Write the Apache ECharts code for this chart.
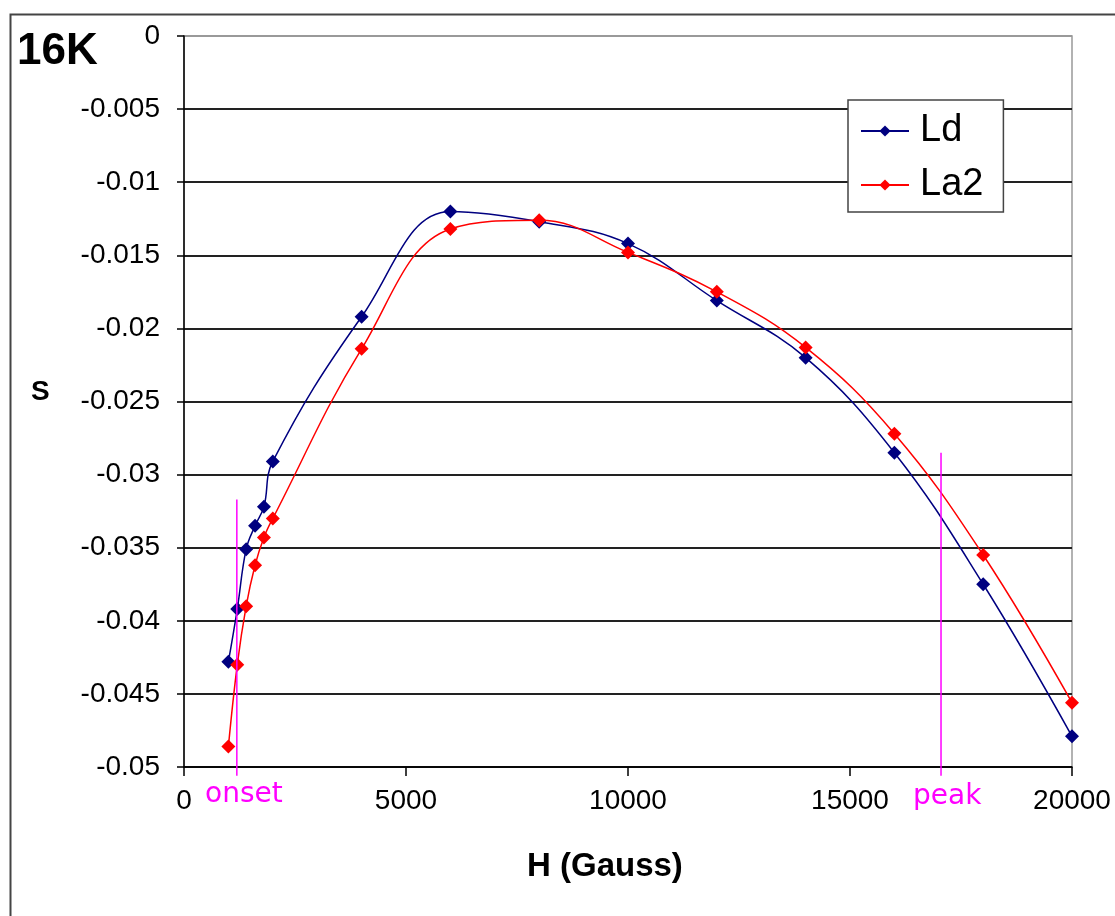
<!DOCTYPE html>
<html><head><meta charset="utf-8">
<script src="https://cdn.jsdelivr.net/npm/echarts@6/dist/echarts.min.js"></script>
<style>html,body{margin:0;padding:0;background:#fff}#c{width:1115px;height:916px}</style>
</head><body><div id="c"></div>
<script>
var ldH = [1000,1200,1400,1600,1800,2000,4000,6000,8000,10000,12000,14000,16000,18000,20000];
var ldS = [-0.0428,-0.0392,-0.0351,-0.0335,-0.0322,-0.0291,-0.0192,-0.0120,-0.0127,-0.0142,-0.0181,-0.0220,-0.0285,-0.0375,-0.0479];
var la2H = [1000,1200,1400,1600,1800,2000,4000,6000,8000,10000,12000,14000,16000,18000,20000];
var la2S = [-0.0486,-0.0430,-0.0390,-0.0362,-0.0343,-0.0330,-0.0214,-0.0132,-0.0126,-0.0148,-0.0175,-0.0213,-0.0272,-0.0355,-0.0456];
var markerH = [1190, 17050];
var markerTop = [-0.0317, -0.0285];
var markerBottom = -0.0506;
var markerNames = ['onset','peak'];
var yTicks = [0,-0.005,-0.01,-0.015,-0.02,-0.025,-0.03,-0.035,-0.04,-0.045,-0.05];

function zip(a,b){return a.map(function(v,i){return [v,b[i]];});}
var chart = echarts.init(document.getElementById('c'));
var gridColors = [];
for (var i=0;i<yTicks.length;i++) gridColors.push(i===yTicks.length-1?'#999':'#222');

var series = [
 {name:'Ld', type:'line', data:zip(ldH,ldS), smooth:0.4, symbol:'diamond', symbolSize:14,
  itemStyle:{color:'#000080'}, lineStyle:{color:'#000080', width:1.5}, z:3},
 {name:'La2', type:'line', data:zip(la2H,la2S), smooth:0.4, symbol:'diamond', symbolSize:14,
  itemStyle:{color:'#ff0000'}, lineStyle:{color:'#ff0000', width:1.5}, z:3}
];
markerH.forEach(function(h,i){
  series.push({name:markerNames[i], type:'line', data:[[h,markerTop[i]],[h,markerBottom]], symbol:'none',
    clip:false, lineStyle:{color:'#ff00ff', width:1.5}, z:4, silent:true});
});

chart.setOption({
  animation:false,
  backgroundColor:'#fff',
  grid:{left:184, right:43, top:36, bottom:149, show:true, borderColor:'#999', borderWidth:1.5, backgroundColor:'transparent'},
  xAxis:{type:'value', min:0, max:20000, interval:5000,
    axisLine:{onZero:false, lineStyle:{color:'#000', width:1.5}},
    axisTick:{show:true, length:9, lineStyle:{color:'#000', width:1.5}},
    splitLine:{show:false},
    axisLabel:{color:'#000', fontSize:28, fontFamily:'Liberation Sans', margin:20,
      formatter:function(v){return String(v);}}},
  yAxis:{type:'value', min:-0.05, max:0, interval:0.005,
    axisLine:{show:true, lineStyle:{color:'#000', width:1.5}},
    axisTick:{show:true, length:7, lineStyle:{color:'#000', width:1.5}},
    splitLine:{show:true, lineStyle:{color:gridColors, width:2}},
    axisLabel:{color:'#000', fontSize:28, fontFamily:'Liberation Sans', margin:24,
      formatter:function(v){return String(Math.round(v*1000)/1000);}}},
  legend:{data:['Ld','La2'], orient:'vertical', left:848, top:100, width:155,
    backgroundColor:'#fff', borderColor:'#444', borderWidth:1.5, padding:[12,20,8,12],
    itemWidth:48, itemHeight:14, itemGap:16,
    textStyle:{fontSize:38, fontFamily:'Liberation Sans', color:'#000', padding:[0,0,0,6]}},
  graphic:[
    {type:'rect', left:8, top:12, shape:{width:1106, height:920}, style:{fill:'none', stroke:'#444', lineWidth:2}, z:-1, silent:true},
    {type:'text', left:17, top:30, style:{text:'16K', font:'bold 44px "Liberation Sans"', fill:'#000'}},
    {type:'text', left:31, top:378, style:{text:'S', font:'bold 28px "Liberation Sans"', fill:'#000'}},
    {type:'text', left:527, top:850, style:{text:'H (Gauss)', font:'bold 33px "Liberation Sans"', fill:'#000'}},
    {type:'text', left:205, top:781, style:{text:'onset', font:'28px "DejaVu Sans"', fill:'#ff00ff'}},
    {type:'text', left:913, top:783, style:{text:'peak', font:'28px "DejaVu Sans"', fill:'#ff00ff'}}
  ],
  series:series
});
</script></body></html>
